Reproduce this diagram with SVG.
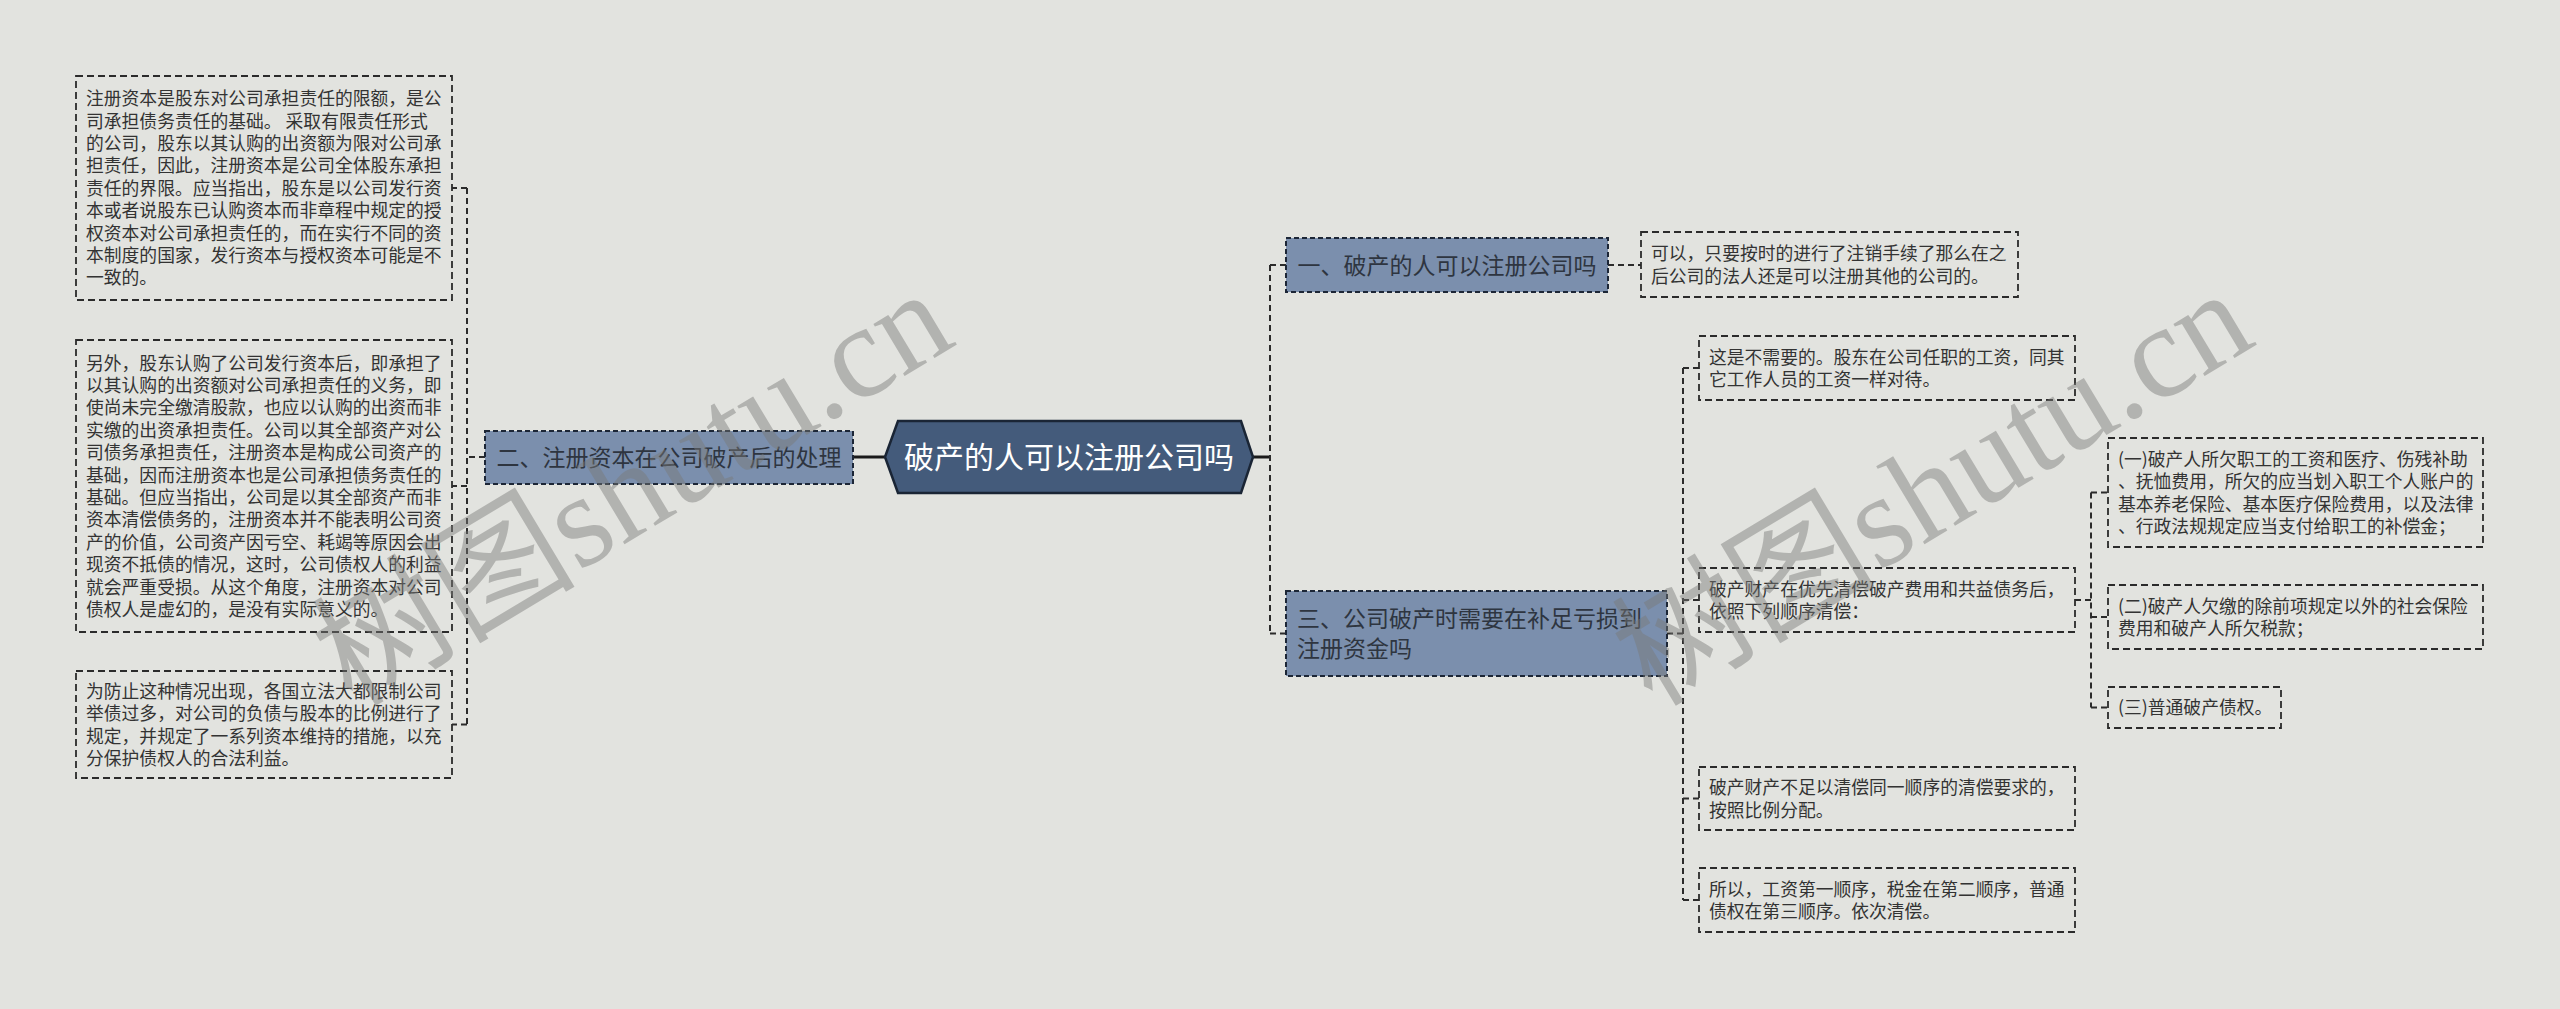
<svg xmlns="http://www.w3.org/2000/svg" width="2560" height="1009" viewBox="0 0 2560 1009">
<style>
.leaf rect{fill:#e2e3df;stroke:#2b2b2b;stroke-width:1.8;stroke-dasharray:7 4}
.leaf text{font-family:"Noto Sans CJK SC","Microsoft YaHei",sans-serif;font-size:17.8px;fill:#333}
.topic rect{fill:#7b8fad;stroke:#1c2636;stroke-width:2;stroke-dasharray:5 3}
.topic text{font-family:"Noto Sans CJK SC","Microsoft YaHei",sans-serif;font-size:23px;fill:#2e3540}
.conn path{fill:none;stroke:#2b2b2b;stroke-width:2;stroke-dasharray:6 4}
.conn path.solid{stroke:#1a1a1a;stroke-width:3;stroke-dasharray:none}
.wm{font-family:"Liberation Serif","Noto Sans CJK SC",serif;font-size:132px;fill:#7a7a78;opacity:0.45}
</style>
<rect x="0" y="0" width="2560" height="1009" fill="#e2e3df"/>

<g id="connectors" class="conn">
<path class="solid" d="M853 457H885"/>
<path class="solid" d="M1253 457H1270"/>
<path d="M485 457H467"/>
<path d="M467 188V724.5"/>
<path d="M467 188H452M467 486H452M467 724.5H452"/>
<path d="M1270 265V633.5"/>
<path d="M1270 265H1286M1270 633.5H1286"/>
<path d="M1608 265H1641"/>
<path d="M1667 633.5H1683"/>
<path d="M1683 368V900"/>
<path d="M1683 368H1699M1683 600H1699M1683 798.5H1699M1683 900H1699"/>
<path d="M2075 600H2091"/>
<path d="M2091 492.5V707.5"/>
<path d="M2091 492.5H2108M2091 617H2108M2091 707.5H2108"/>
</g>

<g id="center">
<polygon points="885,457 898,421 1241,421 1253,457 1241,493 898,493" fill="#445b7b" stroke="#1a2535" stroke-width="2.5"/>
<text x="1069" y="468.4" text-anchor="middle" font-family="Noto Sans CJK SC, Microsoft YaHei, sans-serif" font-size="30" fill="#ffffff">破产的人可以注册公司吗</text>
</g>

<g id="topic2" class="topic">
<rect x="485" y="431" width="368" height="53"/>
<text x="669" y="465.7" text-anchor="middle">二、注册资本在公司破产后的处理</text>
</g>

<g id="topic1" class="topic">
<rect x="1286" y="238" width="322" height="54"/>
<text x="1447" y="273.7" text-anchor="middle">一、破产的人可以注册公司吗</text>
</g>

<g id="topic3" class="topic">
<rect x="1286" y="591" width="381" height="85"/>
<text x="1297" y="627.2">三、公司破产时需要在补足亏损到<tspan x="1297" dy="30">注册资金吗</tspan></text>
</g>

<g id="leafA" class="leaf">
<rect x="76" y="76" width="376" height="224"/>
<text x="86" y="105.2"><tspan x="86">注册资本是股东对公司承担责任的限额，是公</tspan><tspan x="86" dy="22.4">司承担债务责任的基础。 采取有限责任形式</tspan><tspan x="86" dy="22.4">的公司，股东以其认购的出资额为限对公司承</tspan><tspan x="86" dy="22.4">担责任，因此，注册资本是公司全体股东承担</tspan><tspan x="86" dy="22.4">责任的界限。应当指出，股东是以公司发行资</tspan><tspan x="86" dy="22.4">本或者说股东已认购资本而非章程中规定的授</tspan><tspan x="86" dy="22.4">权资本对公司承担责任的，而在实行不同的资</tspan><tspan x="86" dy="22.4">本制度的国家，发行资本与授权资本可能是不</tspan><tspan x="86" dy="22.4">一致的。</tspan></text>
</g>

<g id="leafB" class="leaf">
<rect x="76" y="340" width="376" height="292"/>
<text x="86" y="369.6"><tspan x="86">另外，股东认购了公司发行资本后，即承担了</tspan><tspan x="86" dy="22.4">以其认购的出资额对公司承担责任的义务，即</tspan><tspan x="86" dy="22.4">使尚未完全缴清股款，也应以认购的出资而非</tspan><tspan x="86" dy="22.4">实缴的出资承担责任。公司以其全部资产对公</tspan><tspan x="86" dy="22.4">司债务承担责任，注册资本是构成公司资产的</tspan><tspan x="86" dy="22.4">基础，因而注册资本也是公司承担债务责任的</tspan><tspan x="86" dy="22.4">基础。但应当指出，公司是以其全部资产而非</tspan><tspan x="86" dy="22.4">资本清偿债务的，注册资本并不能表明公司资</tspan><tspan x="86" dy="22.4">产的价值，公司资产因亏空、耗竭等原因会出</tspan><tspan x="86" dy="22.4">现资不抵债的情况，这时，公司债权人的利益</tspan><tspan x="86" dy="22.4">就会严重受损。从这个角度，注册资本对公司</tspan><tspan x="86" dy="22.4">债权人是虚幻的，是没有实际意义的。</tspan></text>
</g>

<g id="leafC" class="leaf">
<rect x="76" y="671" width="376" height="107"/>
<text x="86" y="697.7"><tspan x="86">为防止这种情况出现，各国立法大都限制公司</tspan><tspan x="86" dy="22.4">举债过多，对公司的负债与股本的比例进行了</tspan><tspan x="86" dy="22.4">规定，并规定了一系列资本维持的措施，以充</tspan><tspan x="86" dy="22.4">分保护债权人的合法利益。</tspan></text>
</g>

<g id="leaf1" class="leaf">
<rect x="1641" y="232" width="377" height="65"/>
<text x="1651" y="260.1"><tspan x="1651">可以，只要按时的进行了注销手续了那么在之</tspan><tspan x="1651" dy="22.4">后公司的法人还是可以注册其他的公司的。</tspan></text>
</g>

<g id="leaf3a" class="leaf">
<rect x="1699" y="336" width="376" height="64"/>
<text x="1709" y="363.6"><tspan x="1709">这是不需要的。股东在公司任职的工资，同其</tspan><tspan x="1709" dy="22.4">它工作人员的工资一样对待。</tspan></text>
</g>

<g id="leaf3b" class="leaf">
<rect x="1699" y="568" width="376" height="64"/>
<text x="1709" y="595.6"><tspan x="1709">破产财产在优先清偿破产费用和共益债务后，</tspan><tspan x="1709" dy="22.4">依照下列顺序清偿：</tspan></text>
</g>

<g id="leaf3c" class="leaf">
<rect x="1699" y="767" width="376" height="63"/>
<text x="1709" y="794.1"><tspan x="1709">破产财产不足以清偿同一顺序的清偿要求的，</tspan><tspan x="1709" dy="22.4">按照比例分配。</tspan></text>
</g>

<g id="leaf3d" class="leaf">
<rect x="1699" y="868" width="376" height="64"/>
<text x="1709" y="895.6"><tspan x="1709">所以，工资第一顺序，税金在第二顺序，普通</tspan><tspan x="1709" dy="22.4">债权在第三顺序。依次清偿。</tspan></text>
</g>

<g id="order1" class="leaf">
<rect x="2108" y="438" width="375" height="109"/>
<text x="2118" y="465.7"><tspan x="2118">(一)破产人所欠职工的工资和医疗、伤残补助</tspan><tspan x="2118" dy="22.4">、抚恤费用，所欠的应当划入职工个人账户的</tspan><tspan x="2118" dy="22.4">基本养老保险、基本医疗保险费用，以及法律</tspan><tspan x="2118" dy="22.4">、行政法规规定应当支付给职工的补偿金；</tspan></text>
</g>

<g id="order2" class="leaf">
<rect x="2108" y="585" width="375" height="64"/>
<text x="2118" y="612.6"><tspan x="2118">(二)破产人欠缴的除前项规定以外的社会保险</tspan><tspan x="2118" dy="22.4">费用和破产人所欠税款；</tspan></text>
</g>

<g id="order3" class="leaf">
<rect x="2108" y="687" width="173" height="41"/>
<text x="2118" y="714.3">(三)普通破产债权。</text>
</g>

<text class="wm" transform="translate(352,708) rotate(-31)">树图shutu.cn</text>
<text class="wm" transform="translate(1652,708) rotate(-31)">树图shutu.cn</text>
</svg>
